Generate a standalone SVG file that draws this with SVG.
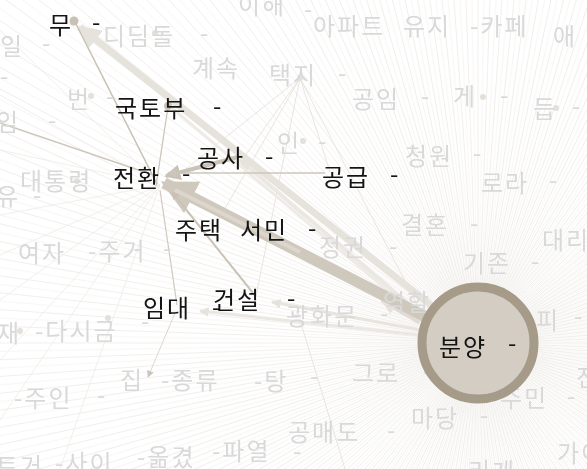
<svg xmlns="http://www.w3.org/2000/svg" xmlns:xlink="http://www.w3.org/1999/xlink" width="587" height="469" viewBox="0 0 587 469">
<style>
text{font-family:"Noto Sans CJK KR","Noto Sans",sans-serif;font-size:24px;letter-spacing:2px}
.d{fill:#141414}
.f{fill:#d9d9d9}
.ray{stroke:#ece9e4;stroke-width:0.7;fill:none}
.fan{stroke:#eeebe7;stroke-width:0.8;fill:none}
.e{fill:none;stroke-linecap:butt}
.dot{fill:#c9c1b5}
.fdot{fill:#e4e0da}
</style>
<defs>
<line id="ray" class="ray" x1="0" y1="0" x2="720" y2="0"/>
<g id="r3"><use xlink:href="#ray"/><use xlink:href="#ray" transform="rotate(2)"/><use xlink:href="#ray" transform="rotate(4)"/></g>
<g id="r9"><use xlink:href="#r3"/><use xlink:href="#r3" transform="rotate(6)"/><use xlink:href="#r3" transform="rotate(12)"/></g>
<g id="r36"><use xlink:href="#r9"/><use xlink:href="#r9" transform="rotate(18)"/><use xlink:href="#r9" transform="rotate(36)"/><use xlink:href="#r9" transform="rotate(54)"/></g>
<marker id="mA" viewBox="0 0 10 10" refX="9" refY="5" markerWidth="3.2" markerHeight="3.2" orient="auto" markerUnits="strokeWidth"><path d="M0,0 L10,5 L0,10 z" fill="#cfc8bd"/></marker>
<marker id="mB" viewBox="0 0 10 10" refX="9" refY="5" markerWidth="3.2" markerHeight="3.2" orient="auto" markerUnits="strokeWidth"><path d="M0,0 L10,5 L0,10 z" fill="#e6e2dc"/></marker>
<marker id="mC" viewBox="0 0 10 10" refX="9" refY="5" markerWidth="4" markerHeight="4" orient="auto" markerUnits="strokeWidth"><path d="M0,0 L10,5 L0,10 z" fill="#c9c1b5"/></marker>
<marker id="mT" viewBox="0 0 10 10" refX="9" refY="5" markerWidth="7" markerHeight="7" orient="auto" markerUnits="strokeWidth"><path d="M0,0 L10,5 L0,10 z" fill="#ccc5ba"/></marker>
</defs>
<rect width="587" height="469" fill="#ffffff"/>

<g id="connectors">
  <g transform="translate(478,343)">
    <use xlink:href="#r36"/><use xlink:href="#r36" transform="rotate(72)"/><use xlink:href="#r36" transform="rotate(144)"/><use xlink:href="#r36" transform="rotate(216)"/><use xlink:href="#r36" transform="rotate(288)"/>
  </g>
  <g transform="translate(478,343) rotate(1)" opacity="0.6">
    <use xlink:href="#r36"/><use xlink:href="#r36" transform="rotate(72)"/><use xlink:href="#r36" transform="rotate(144)"/><use xlink:href="#r36" transform="rotate(216)"/><use xlink:href="#r36" transform="rotate(288)"/>
  </g>
  <path class="fan" d="M160,185 L0,30 M160,185 L0,95 M160,185 L0,150 M160,185 L0,215 M160,185 L0,255 M160,185 L0,300 M160,185 L0,360 M160,185 L0,420 M160,185 L60,469"/>
  <path fill="none" stroke="#e6e2dc" stroke-width="0.9" d="M300,78 L242,160 M300,78 L172,180 M300,78 L256,296 M300,78 L330,172 M300,78 L215,226 M300,78 L420,310"/>
  <line class="e" x1="432" y1="306" x2="80" y2="27" stroke="#e6e2dc" stroke-width="7" marker-end="url(#mB)"/>
  <line class="e" x1="425" y1="318" x2="240" y2="160" stroke="#ebe7e2" stroke-width="4" marker-end="url(#mB)"/>
  <line class="e" x1="425" y1="322" x2="172" y2="108" stroke="#eeebe6" stroke-width="3"/>
  <line class="e" x1="420" y1="335" x2="200" y2="311" stroke="#ebe7e2" stroke-width="3" marker-end="url(#mB)"/>
  <line class="e" x1="420" y1="330" x2="272" y2="302" stroke="#e8e4de" stroke-width="3" marker-end="url(#mB)"/>
  <line class="e" x1="420" y1="322" x2="382" y2="300" stroke="#e0dbd3" stroke-width="5" marker-end="url(#mB)"/>
  <line class="e" x1="428" y1="318" x2="164" y2="183" stroke="#cfc8bd" stroke-width="11" marker-end="url(#mA)"/>
  <line class="e" x1="300" y1="252" x2="175" y2="190" stroke="#dcd6cd" stroke-width="4"/>
  <line class="e" x1="238" y1="157" x2="166" y2="176" stroke="#cbc3b8" stroke-width="4" marker-end="url(#mC)"/>
  <line class="e" x1="253" y1="293" x2="172" y2="192" stroke="#cbc3b7" stroke-width="2" marker-end="url(#mC)"/>
  <line class="e" x1="325" y1="173" x2="168" y2="173" stroke="#cdc6bb" stroke-width="1.3" marker-end="url(#mT)"/>
  <line class="e" x1="177" y1="305" x2="160" y2="190" stroke="#d0c9be" stroke-width="1.2"/>
  <line class="e" x1="168" y1="107" x2="156" y2="186" stroke="#ccc5ba" stroke-width="1.3"/>
  <line class="e" x1="76" y1="24" x2="157" y2="184" stroke="#c9c1b5" stroke-width="1.6"/>
  <line class="e" x1="0" y1="123" x2="156" y2="176" stroke="#cec7bc" stroke-width="1.6"/>
  <line class="e" x1="175" y1="313" x2="148" y2="377" stroke="#dcd6ce" stroke-width="1" marker-end="url(#mT)"/>
  <line x1="300" y1="320" x2="345" y2="469" stroke="#e8e4de" stroke-width="1"/>
</g>

<g id="faded-nodes">
  <circle class="fdot" cx="155" cy="33" r="3"/>
  <circle class="fdot" cx="91" cy="96" r="3"/>
  <circle class="fdot" cx="300" cy="78" r="3"/>
  <circle class="fdot" cx="483" cy="97" r="3"/>
  <circle class="fdot" cx="556" cy="108" r="3"/>
  <circle class="fdot" cx="303" cy="141" r="3"/>
  <circle class="fdot" cx="77" cy="181" r="3"/>
  <circle class="fdot" cx="108" cy="318" r="3"/>
  <circle class="fdot" cx="20" cy="331" r="3"/>
  <text class="f" x="238" y="14">이해<tspan x="304" y="18">-</tspan></text>
  <text class="f" x="313" y="35">아파트</text>
  <text class="f" x="403" y="35">유지<tspan x="470">-</tspan>카페</text>
  <text class="f" x="553" y="45">애</text>
  <text class="f" x="0" y="55">일<tspan x="42" y="52">-</tspan></text>
  <text class="f" x="103" y="45">디딤돌<tspan x="200" y="42">-</tspan></text>
  <text class="f" x="192" y="77">계속</text>
  <text class="f" x="269" y="84">택지<tspan x="338" y="82">-</tspan></text>
  <text class="f" x="0" y="85">-</text>
  <text class="f" x="67" y="108">번<tspan x="106" y="105">-</tspan></text>
  <text class="f" x="-4" y="131">임<tspan x="48" y="129">-</tspan></text>
  <text class="f" x="352" y="108">공임<tspan x="421" y="105">-</tspan></text>
  <text class="f" x="453" y="105">게<tspan x="500" y="104">-</tspan></text>
  <text class="f" x="533" y="118">듭<tspan x="572" y="115">-</tspan></text>
  <text class="f" x="277" y="152">인<tspan x="318" y="150">-</tspan></text>
  <text class="f" x="405" y="165">청원<tspan x="473" y="162">-</tspan></text>
  <text class="f" x="20" y="190">대통령</text>
  <text class="f" x="-4" y="205">유<tspan x="33" y="204">-</tspan></text>
  <text class="f" x="481" y="192">로라<tspan x="549" y="189">-</tspan></text>
  <text class="f" x="401" y="234">결혼<tspan x="470" y="232">-</tspan></text>
  <text class="f" x="319" y="256">정권<tspan x="389" y="255">-</tspan></text>
  <text class="f" x="542" y="249">대리</text>
  <text class="f" x="18" y="262">여자<tspan x="88" y="260">-</tspan>주거<tspan x="163" y="257">-</tspan></text>
  <text class="f" x="463" y="272">기존<tspan x="531" y="270">-</tspan></text>
  <text class="f" x="383" y="311">역할</text>
  <text class="f" x="286" y="325">광화문<tspan x="380" y="322">-</tspan></text>
  <text class="f" x="-3" y="342">재<tspan x="35" y="340">-</tspan>다시금<tspan x="141" y="330">-</tspan></text>
  <text class="f" x="536" y="329">피<tspan x="574" y="325">-</tspan></text>
  <text class="f" x="120" y="389">집<tspan x="161" y="389">-</tspan>종류<tspan x="254" y="390">-</tspan>탕<tspan x="310" y="385">-</tspan></text>
  <text class="f" x="352" y="382">그로<tspan x="423" y="380">-</tspan></text>
  <text class="f" x="576" y="386">진</text>
  <text class="f" x="14" y="407">-주인<tspan x="97" y="404">-</tspan></text>
  <text class="f" x="500" y="407">주민<tspan x="567" y="405">-</tspan></text>
  <text class="f" x="411" y="427">마당<tspan x="480" y="424">-</tspan></text>
  <text class="f" x="288" y="441">공매도<tspan x="387" y="439">-</tspan></text>
  <text class="f" x="557" y="462">가이</text>
  <text class="f" x="-4" y="475">트거<tspan x="55" y="472">-</tspan>사이</text>
  <text class="f" x="137" y="466">-옮겼</text>
  <text class="f" x="212" y="460">-파열<tspan x="293" y="460">-</tspan></text>
  <text class="f" x="468" y="480">리게</text>
</g>

<g id="node-mu"><circle class="dot" cx="74" cy="21" r="4.5"/><text class="d" x="49" y="34">무<tspan x="92" y="31">-</tspan></text></g>
<g id="node-gukto"><circle class="dot" cx="168" cy="106" r="4"/><text class="d" x="115" y="117">국토부<tspan x="213" y="115">-</tspan></text></g>
<g id="node-gongsa"><text class="d" x="197" y="167">공사<tspan x="265" y="165">-</tspan></text></g>
<g id="node-jeonhwan"><text class="d" x="113" y="187">전환<tspan x="182" y="182">-</tspan></text></g>
<g id="node-gonggeup"><text class="d" x="322" y="186">공급<tspan x="390" y="183">-</tspan></text></g>
<g id="node-jutaek"><text class="d" x="175" y="239">주택</text></g>
<g id="node-seomin"><text class="d" x="240" y="239">서민<tspan x="308" y="237">-</tspan></text></g>
<g id="node-imdae"><text class="d" x="143" y="317">임대<tspan x="212" y="316">-</tspan></text></g>
<g id="node-geonseol"><text class="d" x="213" y="309">건설<tspan x="287" y="307">-</tspan></text></g>
<g id="node-bunyang">
  <circle cx="478" cy="343" r="56" fill="#d3cdc3" stroke="#a69a88" stroke-width="9"/>
  <text class="d" x="439" y="356">분양<tspan x="508" y="352">-</tspan></text>
</g>
</svg>
